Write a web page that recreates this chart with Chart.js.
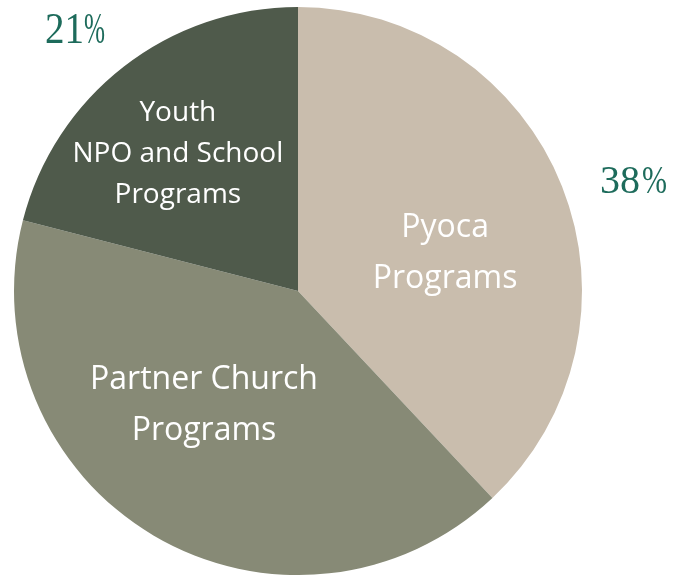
<!DOCTYPE html>
<html>
<head>
<meta charset="utf-8">
<script src="https://cdn.jsdelivr.net/npm/chart.js@4/dist/chart.umd.min.js"></script>
<style>
  html, body { margin: 0; padding: 0; background: #fff; }
  canvas { display: block; }
</style>
</head>
<body>
<canvas id="pie" width="685" height="575"></canvas>
<script>
const categories = ["Pyoca Programs", "Partner Church Programs", "Youth NPO and School Programs"];
const shares = [38, 41, 21];
const sliceColors = ["#c9bdad", "#878a76", "#4f5a4b"];

// text inside each slice, one entry per line
const sliceLines = [
    ["Pyoca", "Programs"],
    ["Partner Church", "Programs"],
    ["Youth", "NPO and School", "Programs"],
];
// percent labels shown outside the pie (Partner has none)
const percentShown = [true, false, true];

// label placement, as offsets from the pie centre in units of the radius
const labelSpots = [
    { dx: 0.518, dy: -0.139, size: 32, lead: 51 },
    { dx: -0.331, dy: 0.394, size: 32, lead: 51 },
    { dx: -0.423, dy: -0.489, size: 28, lead: 41 },
];
const percentSpots = [
    { dx: 1.181, dy: -0.391, size: 40, digits: 42, pct: 25 },
    null,
    { dx: -0.785, dy: -0.926, size: 44, digits: 39, pct: 21 },
];

const pieLabels = {
    id: "pieLabels",
    afterDatasetsDraw(chart) {
        const ctx = chart.ctx;
        const arc = chart.getDatasetMeta(0).data[0];
        const cx = arc.x, cy = arc.y, r = arc.outerRadius;
        ctx.save();
        ctx.textAlign = "center";
        ctx.textBaseline = "alphabetic";

        sliceLines.forEach((lines, i) => {
            const spot = labelSpots[i];
            const x = cx + spot.dx * r;
            const y = cy + spot.dy * r;
            const cap = spot.size * 0.714;
            ctx.font = spot.size + "px 'Open Sans'";
            ctx.fillStyle = "#ffffff";
            const first = y - (lines.length - 1) * spot.lead / 2 + cap / 2;
            lines.forEach((t, k) => ctx.fillText(t, x, first + k * spot.lead));
        });

        shares.forEach((v, i) => {
            if (!percentShown[i]) return;
            const spot = percentSpots[i];
            const x = cx + spot.dx * r;
            const y = cy + spot.dy * r + spot.size * 0.33;
            ctx.fillStyle = "#1d6b5b";
            ctx.font = spot.size + "px 'Liberation Serif'";
            const left = x - (spot.digits + spot.pct) / 2;
            ctx.textAlign = "left";
            ctx.fillText(String(v), left, y, spot.digits);
            ctx.fillText("%", left + spot.digits, y, spot.pct);
        });
        ctx.restore();
    },
};

new Chart(document.getElementById("pie").getContext("2d"), {
    type: "pie",
    data: {
        labels: categories,
        datasets: [
            {
                data: shares,
                backgroundColor: sliceColors,
                borderWidth: 0,
            },
        ],
    },
    options: {
        responsive: false,
        animation: false,
        layout: {
            padding: { top: 7, bottom: 0, left: 14, right: 103 },
        },
        plugins: {
            legend: { display: false },
            tooltip: { enabled: false },
        },
    },
    plugins: [pieLabels],
});
</script>
</body>
</html>
